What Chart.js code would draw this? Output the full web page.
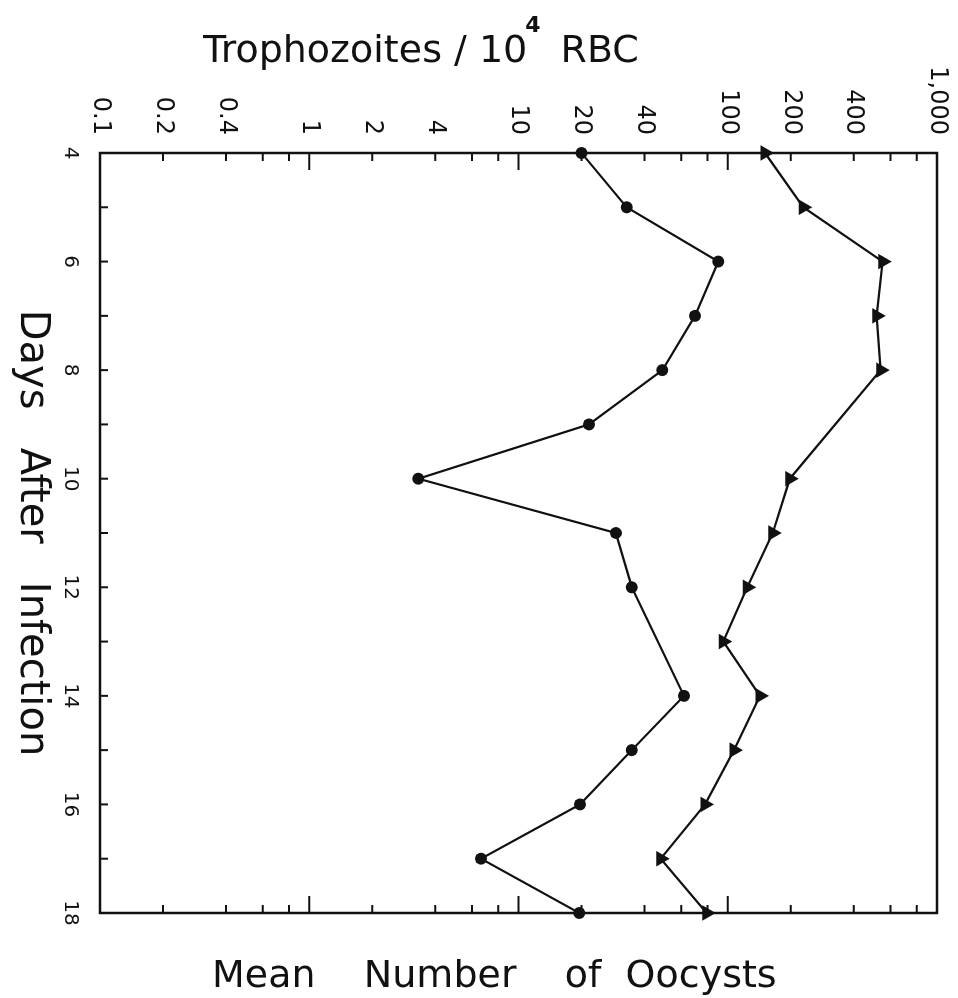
<!DOCTYPE html>
<html>
<head>
<meta charset="utf-8">
<script src="https://cdn.jsdelivr.net/npm/chart.js@4.4.1/dist/chart.umd.min.js"></script>
<style>
html, body { margin: 0; padding: 0; background: #ffffff; }
#wrap { position: relative; width: 958px; height: 998px; overflow: hidden; background: #ffffff; }
#c { position: absolute; left: 0; top: 0; transform-origin: 0 0; transform: translateX(958px) rotate(90deg); }
</style>
</head>
<body>
<div id="wrap"><canvas id="c" width="998" height="958"></canvas></div>
<script>
// ---- data ----
const days = [4, 5, 6, 7, 8, 9, 10, 11, 12, 13, 14, 15, 16, 17, 18];
const oocystValues = [20.0, 32.9, 90.1, 69.7, 48.7, 21.7, 3.32, 29.2, 34.8, null, 61.8, 34.8, 19.7, 6.62, 19.5];
const trophozoiteValues = [150.7, 229.6, 550, 515, 538, null, 198, 164, 124, 95.2, 142.6, 107, 77.9, 47.8, 79.3];

// ---- axis ticks ----
const valueTicks = [0.1, 0.2, 0.4, 1, 2, 4, 10, 20, 40, 100, 200, 400, 1000];
const valueTickLabels = ['0.1', '0.2', '0.4', '1', '2', '4', '10', '20', '40', '100', '200', '400', '1,000'];
const majorTickMarks = [0.1, 1, 10, 100, 1000];
const minorTickMarks = [0.2, 0.4, 0.6, 0.8, 2, 4, 6, 8, 20, 40, 60, 80, 200, 400, 600, 800];
const dayTickLabels = [4, 6, 8, 10, 12, 14, 16, 18];

// ---- texts ----
const topTitleMain = 'Trophozoites / 10';
const topTitleSup = '4';
const topTitleEnd = 'RBC';
const bottomTitle = 'Mean    Number    of  Oocysts';
const daysTitle = 'Days   After   Infection';

const FONT = "'DejaVu Sans', sans-serif";
const INK = '#111111';

const toPoints = (vals) => days.map((d, i) => ({ x: d, y: vals[i] }));

const framePlugin = {
  id: 'frameAndTitles',
  beforeDatasetsDraw(chart) {
    const { ctx, chartArea: a, scales } = chart;
    const x = scales.x, y = scales.y;
    ctx.save();
    ctx.strokeStyle = INK;
    ctx.lineWidth = 2.5;
    ctx.strokeRect(a.left, a.top, a.right - a.left, a.bottom - a.top);
    ctx.lineWidth = 2;
    ctx.beginPath();
    const mark = (v, len) => {
      const p = y.getPixelForValue(v);
      ctx.moveTo(a.left, p); ctx.lineTo(a.left + len, p);
      ctx.moveTo(a.right, p); ctx.lineTo(a.right - len, p);
    };
    majorTickMarks.forEach(v => mark(v, 17));
    minorTickMarks.forEach(v => mark(v, 8));
    for (let d = x.min; d <= x.max; d++) {
      const p = x.getPixelForValue(d);
      ctx.moveTo(p, a.bottom); ctx.lineTo(p, a.bottom - 8);
    }
    ctx.stroke();
    ctx.restore();
  },
  afterDraw(chart) {
    const { ctx, chartArea: a } = chart;
    ctx.save();
    ctx.fillStyle = INK;
    // title along the value axis with labels
    ctx.save();
    ctx.translate(a.left - 91, a.bottom - 103);
    ctx.rotate(-Math.PI / 2);
    ctx.textAlign = 'left';
    ctx.textBaseline = 'alphabetic';
    ctx.font = '38px ' + FONT;
    ctx.fillText(topTitleMain, 0, 0);
    const w1 = ctx.measureText(topTitleMain).width;
    ctx.font = 'bold 22px ' + FONT;
    ctx.fillText(topTitleSup, w1 - 2, -30);
    const w2 = ctx.measureText(topTitleSup).width;
    ctx.font = '38px ' + FONT;
    ctx.fillText(topTitleEnd, w1 + w2 + 18, 0);
    ctx.restore();
    // title along the opposite value axis
    ctx.save();
    ctx.translate(a.right + 74, a.bottom - 112);
    ctx.rotate(-Math.PI / 2);
    ctx.textAlign = 'left';
    ctx.textBaseline = 'alphabetic';
    ctx.font = '38px ' + FONT;
    ctx.fillText(bottomTitle, 0, 0);
    ctx.restore();
    // days title
    ctx.textAlign = 'center';
    ctx.textBaseline = 'alphabetic';
    ctx.font = '40px ' + FONT;
    ctx.fillText(daysTitle, (a.left + a.right) / 2, a.bottom + 79);
    ctx.restore();
  }
};

new Chart(document.getElementById('c'), {
  type: 'line',
  data: {
    datasets: [
      {
        label: 'Mean Number of Oocysts',
        data: toPoints(oocystValues),
        borderColor: INK,
        backgroundColor: INK,
        borderWidth: 2.2,
        pointStyle: 'circle',
        pointRadius: 6,
        pointBorderWidth: 0,
        spanGaps: true,
        tension: 0,
        clip: false
      },
      {
        label: 'Trophozoites / 10^4 RBC',
        data: toPoints(trophozoiteValues),
        borderColor: INK,
        backgroundColor: INK,
        borderWidth: 2.2,
        pointStyle: 'triangle',
        pointRadius: 9,
        pointBorderWidth: 0,
        spanGaps: true,
        tension: 0,
        clip: false
      }
    ]
  },
  options: {
    responsive: false,
    devicePixelRatio: 1,
    animation: false,
    layout: { padding: { left: 0, right: 85, top: 21, bottom: 0 } },
    plugins: { legend: { display: false }, tooltip: { enabled: false } },
    scales: {
      x: {
        type: 'linear',
        position: 'bottom',
        min: 4,
        max: 18,
        grid: { display: false, drawTicks: false },
        border: { display: false },
        afterBuildTicks: (s) => { s.ticks = dayTickLabels.map(v => ({ value: v })); },
        afterFit: (s) => { s.height = 100; s.paddingLeft = 0; s.paddingRight = 0; },
        ticks: {
          autoSkip: false,
          maxRotation: 0,
          minRotation: 0,
          padding: 18,
          color: INK,
          font: { family: FONT, size: 20 },
          callback: (v) => String(v)
        }
      },
      y: {
        type: 'logarithmic',
        position: 'left',
        min: 0.1,
        max: 1000,
        grid: { display: false, drawTicks: false },
        border: { display: false },
        afterBuildTicks: (s) => { s.ticks = valueTicks.map(v => ({ value: v })); },
        afterFit: (s) => { s.width = 153; s.paddingTop = 0; s.paddingBottom = 0; },
        ticks: {
          autoSkip: false,
          padding: 18,
          color: INK,
          font: { family: FONT, size: 24 },
          callback: (v) => {
            const i = valueTicks.indexOf(v);
            return i >= 0 ? valueTickLabels[i] : '';
          }
        }
      }
    }
  },
  plugins: [framePlugin]
});
</script>
</body>
</html>
